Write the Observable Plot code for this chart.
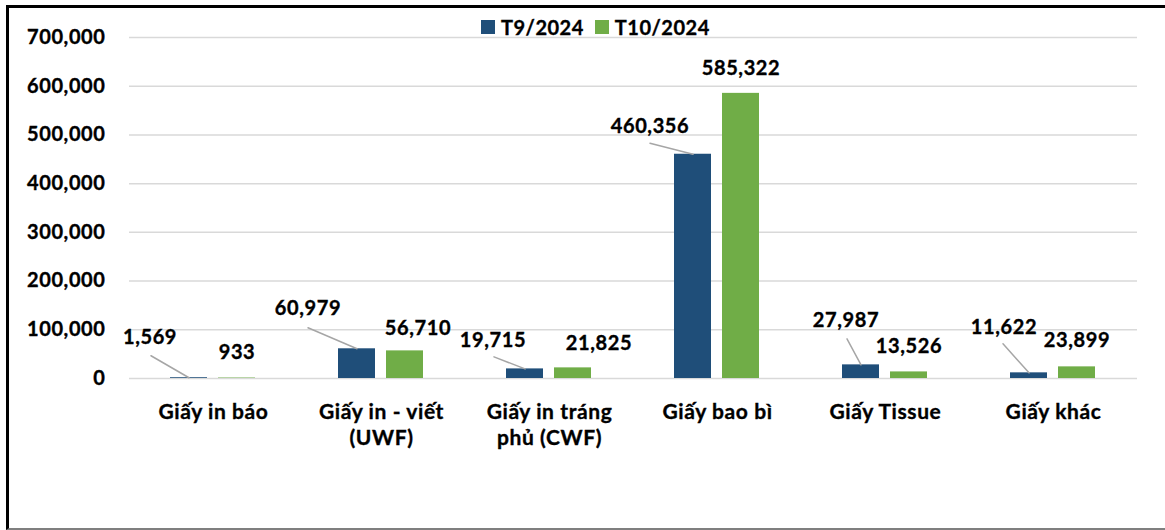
<!DOCTYPE html>
<html><head><meta charset="utf-8">
<script src="https://cdn.jsdelivr.net/npm/d3@7"></script>
<script src="https://cdn.jsdelivr.net/npm/@observablehq/plot@0.6"></script>
<style>
body{margin:0;background:#fff;font-family:Lato,sans-serif;}
#frame{position:absolute;left:6px;top:5px;width:1200px;height:520px;border-left:3px solid #000;border-top:3px solid #000;border-bottom:2px solid #7f7f7f;}
#chart{position:absolute;left:0;top:0;}
#chart svg text{letter-spacing:0.6px;stroke:#000;stroke-width:0.35px;}
#legend{position:absolute;left:472px;top:6px;display:flex;align-items:center;font-weight:bold;font-size:20px;line-height:26px;color:#000;letter-spacing:0.5px;-webkit-text-stroke:0.35px #000;}
#legend .sw{width:14px;height:14px;display:inline-block;margin-right:6px;}
#legend .item{display:flex;align-items:center;margin-right:11px;}
</style>
</head><body>
<div id="frame"><div id="chart"></div><div id="legend"></div></div>
<script>
const categories = ["Giấy in báo","Giấy in - viết (UWF)","Giấy in tráng phủ (CWF)","Giấy bao bì","Giấy Tissue","Giấy khác"];
const categoryLabels = ["Giấy in báo","Giấy in - viết\n(UWF)","Giấy in tráng\nphủ (CWF)","Giấy bao bì","Giấy Tissue","Giấy khác"];
const seriesNames = ["T9/2024","T10/2024"];
const valuesT9 = [1569, 60979, 19715, 460356, 27987, 11622];
const valuesT10 = [933, 56710, 21825, 585322, 13526, 23899];
const yTicks = [0,100000,200000,300000,400000,500000,600000,700000];
const colors = ["#1F4E79","#70AD47"];

// label placement (pixel nudges from bar top), layout only
const labelNudgeT9 = [[-39,-40],[-49,-40],[-32,-28],[-43,-28],[-15,-44],[-25,-45]];
const labelNudgeT10 = [[0,-25],[13,-22],[26,-24],[0,-25],[0,-25],[0,-26]];
const leaderT9 = [[-38,-22],[-49,-21],[-31,-12],[-43,-11],[-14,-26],[-26,-29]];

const rows = [];
categories.forEach((c,i)=>{
  rows.push({category:c, series:seriesNames[0], value:valuesT9[i], nudge:labelNudgeT9[i], leader:leaderT9[i]});
  rows.push({category:c, series:seriesNames[1], value:valuesT10[i], nudge:labelNudgeT10[i], leader:null});
});
const fmt = d3.format(",");
const leaderShape = {draw(context, l){ context.moveTo(0,0); context.lineTo(0,-l); }};

const marks = [
  Plot.ruleY(yTicks, {stroke:"#d9d9d9", strokeWidth:1.5}),
  Plot.barY(rows, {fx:"category", x:"series", y:"value", fill:"series", inset:0}),
  ...rows.filter(r=>r.leader).map(r=>Plot.vector([r], {
    fx:"category", x:"series", y:"value", anchor:"start",
    length: Math.hypot(r.leader[0], r.leader[1]),
    rotate: Math.atan2(r.leader[0], -r.leader[1])*180/Math.PI,
    stroke:"#a6a6a6", strokeWidth:1.5, shape: leaderShape
  })),
  ...rows.map(r=>Plot.text([r], {
    fx:"category", x:"series", y:"value", text:d=>fmt(d.value),
    dx:r.nudge[0], dy:r.nudge[1], lineAnchor:"middle",
    fontSize:20, fontWeight:"bold", fill:"#000"
  })),
  Plot.text(categories, {fx:d=>d, text:(d,i)=>categoryLabels[i], frameAnchor:"bottom",
    lineAnchor:"top", dy:22, lineHeight:1.25, fontSize:21, fontWeight:"bold", fill:"#000"})
];

const chart = Plot.plot({
  width:1156, height:520,
  marginLeft:117, marginRight:26, marginTop:29, marginBottom:150,
  style:{fontFamily:"Lato, sans-serif", fontSize:"20px", fontWeight:"bold", color:"#000", background:"transparent"},
  fx:{domain:categories, padding:0, axis:null, label:null},
  x:{domain:seriesNames, axis:null, paddingInner:0.2245, paddingOuter:0.835},
  y:{domain:[0,700000], ticks:yTicks, tickFormat:fmt, tickSize:0, tickPadding:24, label:null},
  color:{domain:seriesNames, range:colors},
  marks
});
document.getElementById("chart").appendChild(chart);

const legend = document.getElementById("legend");
seriesNames.forEach((s,i)=>{
  const it = document.createElement("div"); it.className="item";
  const sw = document.createElement("span"); sw.className="sw"; sw.style.background=colors[i];
  it.appendChild(sw); it.appendChild(document.createTextNode(s));
  legend.appendChild(it);
});
</script>
</body></html>
